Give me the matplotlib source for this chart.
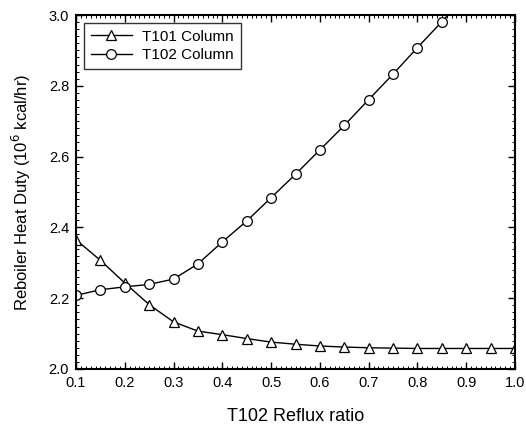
import matplotlib
matplotlib.use("Agg")
import matplotlib.pyplot as plt
from matplotlib.ticker import MultipleLocator

# reflux ratio of T102
reflux = [0.1, 0.15, 0.2, 0.25, 0.3, 0.35, 0.4, 0.45, 0.5, 0.55,
          0.6, 0.65, 0.7, 0.75, 0.8, 0.85, 0.9, 0.95, 1.0]
t101_duty = [2.365, 2.307, 2.243, 2.182, 2.133, 2.107, 2.097, 2.086, 2.076, 2.070,
             2.065, 2.062, 2.060, 2.059, 2.058, 2.058, 2.058, 2.058, 2.058]

reflux_t102 = [0.1, 0.15, 0.2, 0.25, 0.3, 0.35, 0.4, 0.45, 0.5, 0.55,
               0.6, 0.65, 0.7, 0.75, 0.8, 0.85, 0.9]
t102_duty = [2.208, 2.224, 2.232, 2.239, 2.254, 2.297, 2.359, 2.418, 2.484, 2.550,
             2.619, 2.688, 2.761, 2.833, 2.908, 2.981, 3.055]

plt.rcParams['font.family'] = ['Liberation Sans', 'DejaVu Sans']

fig = plt.figure(figsize=(5.26, 4.25), dpi=100)
ax = fig.add_axes([76/526, 1 - 369/425, 439/526, 354/425])

ax.plot(reflux, t101_duty, color='black', lw=1.0, marker='^', ms=6.5,
        mfc='white', mec='black', mew=0.9, label='T101 Column')
ax.plot(reflux_t102, t102_duty, color='black', lw=1.0, marker='o', ms=7,
        mfc='white', mec='black', mew=0.9, label='T102 Column')

ax.set_xlim(0.1, 1.0)
ax.set_ylim(2.0, 3.0)
ax.xaxis.set_major_locator(MultipleLocator(0.1))
ax.xaxis.set_minor_locator(MultipleLocator(0.01))
ax.yaxis.set_major_locator(MultipleLocator(0.2))
ax.yaxis.set_minor_locator(MultipleLocator(0.02))
ax.tick_params(which='both', direction='in', top=True, right=True, labelsize=10.5)
ax.tick_params(which='major', length=5, width=1, pad=5)
ax.tick_params(which='minor', length=2.5, width=0.7)
for s in ax.spines.values():
    s.set_linewidth(1.5)

ax.set_xlabel('T102 Reflux ratio', fontsize=13, labelpad=13)
ax.set_ylabel('Reboiler Heat Duty (10$^6$ kcal/hr)', fontsize=12, labelpad=11)

leg = ax.legend(loc='upper left', fontsize=11, frameon=True, fancybox=False,
                edgecolor='black', handlelength=2.7, handletextpad=0.7,
                borderaxespad=0.5, borderpad=0.45, labelspacing=0.3)
leg.get_frame().set_linewidth(1.0)

fig.savefig('out.png', dpi=100)
